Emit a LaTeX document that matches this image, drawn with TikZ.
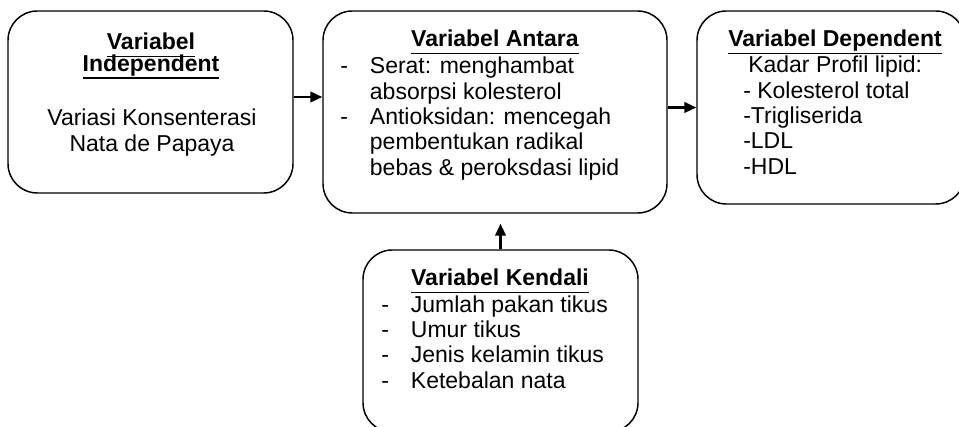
\documentclass[tikz,border=0pt]{standalone}
\usepackage{fontspec}
\setmainfont{Liberation Sans}
\usetikzlibrary{arrows.meta}

\newsavebox\judulbox
\newcommand{\judul}[1]{\sbox\judulbox{\textbf{#1}}\rlap{\rule[-5.6pt]{\wd\judulbox}{1.4pt}}\usebox\judulbox}

\tikzset{
  varbox/.style={draw, line width=1.1pt, rounded corners=22pt, inner sep=0pt},
  arr/.style={line width=1.6pt, -{Triangle[length=9pt,width=8pt]}},
  txt/.style={inner sep=0pt, font=\fontsize{17.25}{19}\selectfont},
}

\begin{document}
\begin{tikzpicture}[x=0.75pt, y=-0.75pt]
  \useasboundingbox (0,0) rectangle (959,427);
  \clip (0,0) rectangle (959,427);
  % kotak
  \node[varbox, minimum width=213.75pt, minimum height=136.5pt] (indep) at (150.5,102) {};
  \node[varbox, minimum width=258pt, minimum height=151.5pt] (antara) at (495,112) {};
  \node[varbox, minimum width=201pt, minimum height=144.75pt] (depen) at (831,107.5) {};
  \node[varbox, minimum width=206.25pt, minimum height=136.5pt] (kendali) at (500.5,341) {};
  % teks
  \node[txt, anchor=base] (t1) at (151,50)
    {\begin{tabular}[t]{@{}c@{}}\judul{Variabel}\\[-3pt]\judul{Independent}\end{tabular}};
  \node[txt, anchor=base] (b1) at (152,126)
    {\begin{tabular}[t]{@{}c@{}}Variasi Konsenterasi\\Nata de Papaya\end{tabular}};
  \node[txt, anchor=base] (t2) at (495,47) {\judul{Variabel Antara}};
  \node[txt, anchor=base west] (b2) at (340,74)
    {\begin{tabular}[t]{@{}l@{\hspace{16.5pt}}l@{}}
      - & Serat: menghambat\\
        & absorpsi kolesterol\\
      - & Antioksidan: mencegah\\
        & pembentukan radikal\\
        & bebas \& peroksdasi lipid
    \end{tabular}};
  \node[txt, anchor=base] (t3) at (835,47) {\judul{Variabel Dependent}};
  \node[txt, anchor=base west] (b3) at (743,73)
    {\begin{tabular}[t]{@{}l@{}}
      \hspace{3.75pt}Kadar Profil lipid:\\
      - Kolesterol total\\
      -Trigliserida\\
      -LDL\\
      -HDL
    \end{tabular}};
  \node[txt, anchor=base] (t4) at (500,286) {\judul{Variabel Kendali}};
  \node[txt, anchor=base west] (b4) at (381,312)
    {\begin{tabular}[t]{@{}l@{\hspace{16.5pt}}l@{}}
      - & Jumlah pakan tikus\\
      - & Umur tikus\\
      - & Jenis kelamin tikus\\
      - & Ketebalan nata
    \end{tabular}};
  % panah
  \coordinate (p1) at ([yshift=3.75pt]indep.east);
  \draw[arr] (p1) -- (p1 -| antara.west);
  \draw[arr] (antara.east |- depen.west) -- (depen.west);
  \draw[arr, shorten >=7.5pt] (kendali.north) -- (kendali.north |- antara.south);
\end{tikzpicture}
\end{document}
